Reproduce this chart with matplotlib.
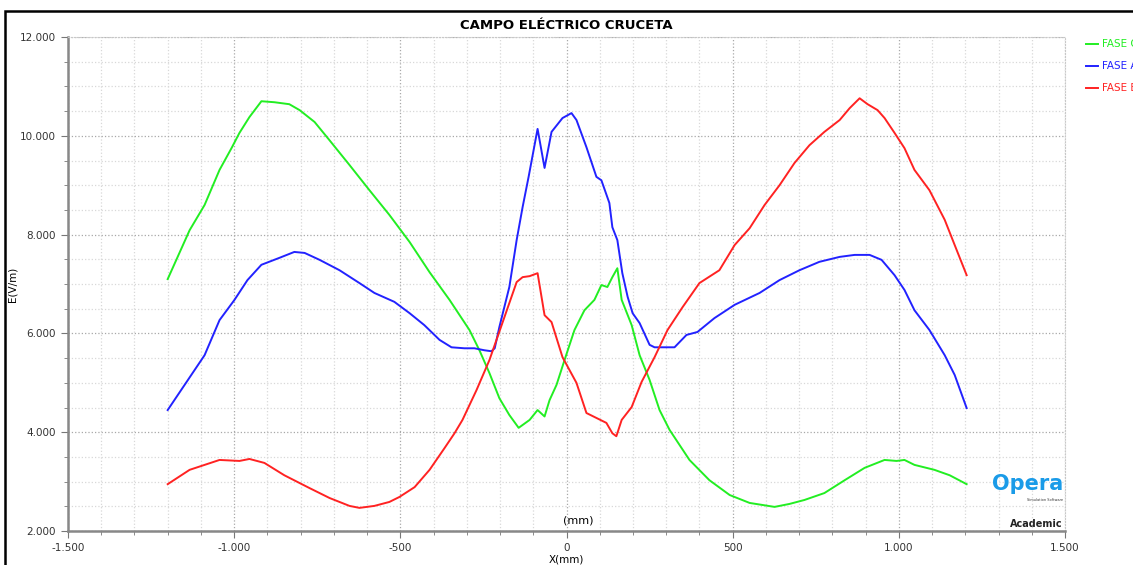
import matplotlib.pyplot as plt
import numpy as np
from matplotlib.ticker import MultipleLocator, FuncFormatter
from matplotlib.patches import Rectangle

# Data (X in mm, E in V/m)
fase_c_x = [-1200, -1134, -1089, -1044, -1008, -984, -954, -918, -879, -834, -803, -758,
            -713, -653, -593, -533, -472, -412, -352, -292, -262, -232, -202, -172, -144,
            -111, -87, -66, -51, -30, -6, 24, 54, 84, 105, 123, 138, 153, 166, 196, 220,
            250, 280, 310, 370, 430, 491, 551, 626, 671, 716, 776, 837, 897, 957, 993,
            1017, 1047, 1107, 1153, 1204]
fase_c_y = [7100, 8090, 8600, 9310, 9750, 10060, 10380, 10700, 10680, 10640, 10520, 10280,
            9910, 9410, 8900, 8400, 7850, 7240, 6680, 6070, 5660, 5200, 4690, 4350, 4090,
            4250, 4450, 4320, 4650, 4960, 5460, 6070, 6470, 6680, 6980, 6940, 7140, 7320,
            6680, 6170, 5560, 5060, 4450, 4050, 3440, 3030, 2730, 2570, 2490, 2550, 2630,
            2770, 3030, 3280, 3440, 3420, 3440, 3340, 3240, 3130, 2950]

fase_a_x = [-1200, -1149, -1089, -1044, -999, -960, -918, -864, -819, -788, -743, -683,
            -623, -578, -518, -472, -428, -382, -346, -307, -277, -247, -226, -216, -202,
            -172, -150, -132, -114, -87, -66, -45, -12, 15, 30, 60, 90, 105, 129, 138, 153,
            168, 184, 199, 220, 250, 265, 289, 325, 361, 394, 445, 506, 581, 641, 701, 761,
            822, 867, 912, 948, 987, 1017, 1047, 1092, 1138, 1168, 1204]
fase_a_y = [4450, 4960, 5560, 6270, 6680, 7080, 7390, 7530, 7650, 7630, 7490, 7280,
            7020, 6820, 6640, 6410, 6170, 5870, 5720, 5700, 5700, 5660, 5640, 5700, 6130,
            6940, 7890, 8560, 9170, 10140, 9350, 10080, 10360, 10460, 10320, 9770, 9170,
            9100, 8640, 8150, 7890, 7220, 6740, 6410, 6210, 5770, 5720, 5720, 5720, 5970,
            6030, 6310, 6580, 6820, 7080, 7280, 7450, 7550, 7590, 7590, 7490, 7180, 6880,
            6470, 6070, 5560, 5160, 4490]

fase_b_x = [-1200, -1134, -1089, -1044, -984, -954, -909, -849, -773, -713, -653, -623,
            -578, -533, -503, -457, -412, -367, -337, -313, -271, -232, -193, -150, -132,
            -111, -87, -66, -45, -12, 30, 60, 90, 120, 138, 150, 166, 196, 226, 265, 304,
            349, 400, 460, 506, 551, 596, 641, 686, 731, 776, 822, 852, 882, 906, 936, 957,
            987, 1017, 1047, 1092, 1138, 1168, 1204]
fase_b_y = [2950, 3240, 3340, 3440, 3420, 3460, 3380, 3130, 2870, 2670, 2510, 2470,
            2510, 2590, 2690, 2890, 3240, 3680, 3980, 4250, 4850, 5460, 6210, 7040, 7140,
            7160, 7220, 6370, 6230, 5520, 5000, 4390, 4290, 4190, 3980, 3920, 4250, 4510,
            5020, 5520, 6070, 6530, 7020, 7280, 7790, 8130, 8600, 9000, 9450, 9810, 10080,
            10320, 10560, 10760, 10640, 10520, 10360, 10060, 9750, 9310, 8900, 8300, 7790,
            7180]

fig = plt.figure(figsize=(11.33, 5.65), dpi=100)
ax = fig.add_axes([0.060, 0.060, 0.880, 0.8745])

ax.plot(fase_c_x, fase_c_y, color='#22ee22', lw=1.4, label='FASE C')
ax.plot(fase_a_x, fase_a_y, color='#2222ff', lw=1.4, label='FASE A')
ax.plot(fase_b_x, fase_b_y, color='#ff2222', lw=1.4, label='FASE B')

ax.set_xlim(-1500, 1500)
ax.set_ylim(2000, 12000)
ax.xaxis.set_major_locator(MultipleLocator(500))
ax.xaxis.set_minor_locator(MultipleLocator(100))
ax.yaxis.set_major_locator(MultipleLocator(2000))
ax.yaxis.set_minor_locator(MultipleLocator(500))

fmt = FuncFormatter(lambda v, p: f"{int(round(v)):,}".replace(",", "."))
ax.xaxis.set_major_formatter(fmt)
ax.yaxis.set_major_formatter(fmt)

ax.grid(which='major', color='#a8a8a8', linestyle=':', lw=0.9)
ax.grid(which='minor', color='#d8d8d8', linestyle=':', lw=0.9)
ax.set_axisbelow(True)

ax.tick_params(which='major', length=5, color='#777777', labelsize=7.5, labelcolor='#333333')
ax.tick_params(which='minor', length=3, color='#777777')
for s in ['left', 'bottom']:
    ax.spines[s].set_color('#888888')
    ax.spines[s].set_linewidth(1.8)
for s in ['top', 'right']:
    ax.spines[s].set_color('#c8c8c8')
    ax.spines[s].set_linestyle(':')

ax.set_title('CAMPO ELÉCTRICO CRUCETA', fontsize=9.5, fontweight='bold', pad=6)
ax.set_ylabel('E(V/m)', fontsize=7.5, labelpad=2)
ax.set_xlabel('X(mm)', fontsize=7.5, labelpad=1)

ax.text(0.5115, 0.012, '(mm)', transform=ax.transAxes, ha='center', va='bottom', fontsize=8)

# Opera logo text
ax.text(0.998, 0.075, 'Opera', transform=ax.transAxes, ha='right', va='bottom',
        fontsize=15, fontweight='bold', color='#1a9be8')
ax.text(0.998, 0.058, 'Simulation Software', transform=ax.transAxes, ha='right',
        va='bottom', fontsize=2.5, color='#333333')
ax.text(0.998, 0.004, 'Academic', transform=ax.transAxes, ha='right', va='bottom',
        fontsize=7, fontweight='bold', color='#222222')

leg = ax.legend(loc='upper left', bbox_to_anchor=(0.950, 0.947), bbox_transform=fig.transFigure,
                frameon=False, fontsize=7.5, labelcolor='linecolor', handlelength=1.2,
                handletextpad=0.4, labelspacing=1.15)

# outer frame of the screenshot
fig.add_artist(Rectangle((5 / 1133, -0.1), 1.2, 1.1 - 11 / 565, transform=fig.transFigure,
                         fill=False, edgecolor='black', lw=1.8))

fig.savefig('out.png', dpi=100)
